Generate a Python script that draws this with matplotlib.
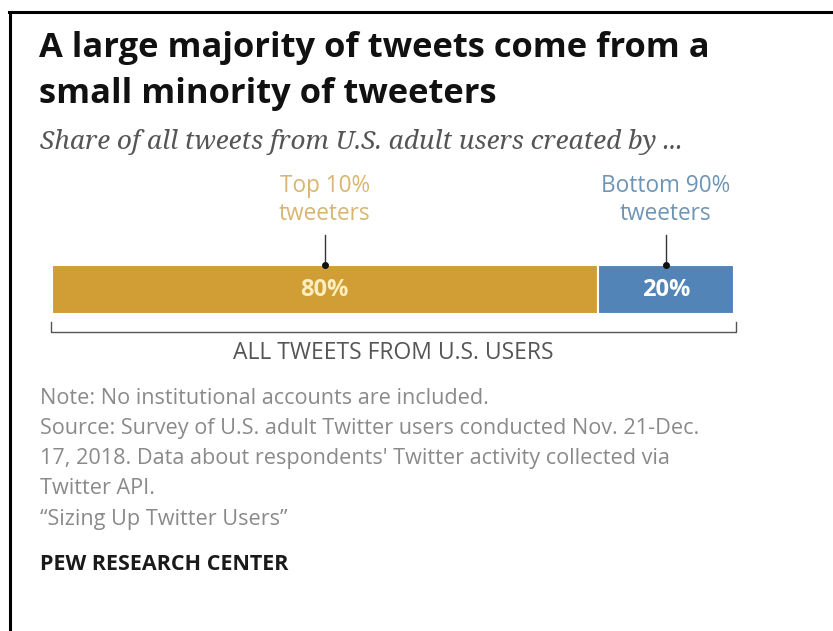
import matplotlib.pyplot as plt
from matplotlib.lines import Line2D

W, H = 833, 631

groups = ["Top 10%\ntweeters", "Bottom 90%\ntweeters"]
shares = [80, 20]
bar_colors = ["#D19D35", "#5384B8"]
label_colors = ["#D8B66F", "#6E95B5"]
value_colors = ["#FCEDBD", "#FFFFFF"]

title_lines = ["A large majority of tweets come from a", "small minority of tweeters"]
subtitle = "Share of all tweets from U.S. adult users created by ..."
bracket_label = "ALL TWEETS FROM U.S. USERS"
notes = [
    "Note: No institutional accounts are included.",
    "Source: Survey of U.S. adult Twitter users conducted Nov. 21-Dec.",
    "17, 2018. Data about respondents' Twitter activity collected via",
    "Twitter API.",
    "\u201cSizing Up Twitter Users\u201d",
]
credit = "PEW RESEARCH CENTER"

SANS = ["Open Sans", "DejaVu Sans"]
SERIF = ["Noto Serif", "DejaVu Serif"]


def fx(x):
    return x / W


def fy(y):
    return 1 - y / H


fig = plt.figure(figsize=(W / 100, H / 100), dpi=100)
fig.patch.set_facecolor("white")

# frame on top and left edge
fig.add_artist(Line2D([fx(9), 1], [fy(12), fy(12)], color="black", lw=2.2))
fig.add_artist(Line2D([fx(10), fx(10)], [fy(12), 0], color="black", lw=2.2))

# titles
for i, line in enumerate(title_lines):
    fig.text(fx(39), fy(57 + 46 * i), line, ha="left", va="baseline", fontsize=24.8,
             fontweight="bold", family=SANS, color="#111111")
fig.text(fx(40), fy(149), subtitle, ha="left", va="baseline", fontsize=18.8,
         style="italic", family=SERIF, color="#555555")

# bar axes: x in percent, y in pixel rows
ax = fig.add_axes([fx(52), fy(370), fx(734) - fx(52), (370 - 160) / H])
ax.set_xlim(0, sum(shares))
ax.set_ylim(370, 160)
ax.axis("off")

bar_top, bar_bot = 265, 314
left = 0
for share, name, bc, lc, vc in zip(shares, groups, bar_colors, label_colors, value_colors):
    ax.barh((bar_top + bar_bot) / 2, share, left=left, height=bar_bot - bar_top,
            color=bc, edgecolor="white", linewidth=1.5)
    mid = left + share / 2
    ax.text(mid, (bar_top + bar_bot) / 2, f"{share}%", ha="center", va="center",
            fontsize=17, fontweight="bold", family=SANS, color=vc)
    ax.plot([mid, mid], [bar_top, 235], color="#333333", lw=1)
    ax.plot(mid, bar_top, "o", color="#111111", ms=4)
    ax.text(mid, 200, name, ha="center", va="center", fontsize=16.3,
            family=SANS, color=lc, linespacing=1.2)
    left += share

# bracket under the bar
ax.plot([-0.15, -0.15, 100.3, 100.3], [322, 332, 332, 322], color="#555555",
        lw=1, clip_on=False)
ax.text(50, 353, bracket_label, ha="center", va="center", fontsize=16.5,
        family=SANS, color="#555555")

# notes and credit
for i, line in enumerate(notes):
    fig.text(fx(40), fy(398 + 30.3 * i), line, ha="left", va="center",
             fontsize=15.6, family=SANS, color="#8A8A8A")
fig.text(fx(40), fy(565), credit, ha="left", va="center", fontsize=15.5,
         fontweight="bold", family=SANS, color="#1A1A1A")

fig.savefig("out.png", dpi=100)
